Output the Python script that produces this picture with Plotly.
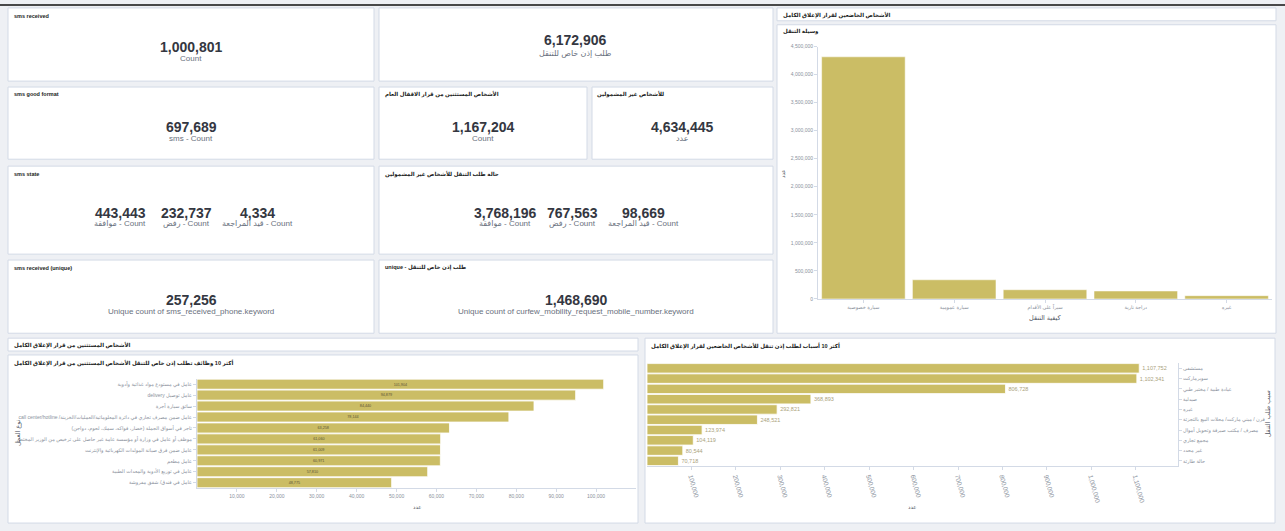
import plotly.graph_objects as go

W, H = 1285, 531


def fx(px):
    return px / W


def fy(py):
    return 1 - py / H


RLE, PDF = "\u202b", "\u202c"

# ---------------- data ----------------
single_titles = ["sms received", "sms good format", "sms received (unique)", "",
                 "الأشخاص المستثنين من قرار الاقفال العام", "للأشخاص غير المشمولين",
                 "unique - طلب إذن خاص للتنقل"]
single_values = [1000801, 697689, 257256, 6172906, 1167204, 4634445, 1468690]
single_labels = ["Count", "sms - Count", "Unique count of sms_received_phone.keyword",
                 "طلب إذن خاص للتنقل", "Count", "عدد",
                 "Unique count of curfew_mobility_request_mobile_number.keyword"]

state_labels = ["موافقة - Count", "رفض - Count", "قيد المراجعة - Count"]
sms_state_values = [443443, 232737, 4334]
mobility_state_values = [3768196, 767563, 98669]

transport_modes = ["سيارة خصوصية", "سيارة عمومية", "سيراً على الأقدام", "دراجة نارية", "غيره"]
transport_counts = [4316000, 341000, 164000, 141000, 58000]

jobs = [
    "عامل في مستودع مواد غذائية وأدوية",
    "عامل توصيل delivery",
    "سائق سيارة أجرة",
    "عامل ضمن مصرف تجاري في دائرة المعلوماتية/العمليات/الخزينة/ call center/hotline",
    "تاجر في أسواق الجملة (خضار، فواكه، سمك، لحوم، دواجن)",
    "موظف أو عامل في وزارة أو مؤسسة عامة غير حاصل على ترخيص من الوزير المختص",
    "عامل ضمن فرق صيانة المولدات الكهربائية والإنترنت",
    "عامل مطعم",
    "عامل في توزيع الأدوية والمعدات الطبية",
    "عامل في فندق/ شقق مفروشة",
]
job_counts = [101904, 94879, 84440, 78144, 63258, 61060, 61009, 60971, 57810, 48775]

reasons = [
    "مستشفى", "سوبرماركت", "عيادة طبية / مختبر طبي", "صيدلية", "غيره",
    "فرن / ميني ماركت/ محلات البيع بالتجزئة", "مصرف / مكتب صيرفة وتحويل أموال",
    "مجمع تجاري", "غير محدد", "حالة طارئة",
]
reason_counts = [1107752, 1102341, 806728, 368893, 292821, 248521, 123974, 104119, 80544, 70718]

x_ticks_jobs = [10000, 20000, 30000, 40000, 50000, 60000, 70000, 80000, 90000, 100000]
x_ticks_reasons = [100000, 200000, 300000, 400000, 500000, 600000, 700000, 800000,
                   900000, 1000000, 1100000]
y_ticks_transport = [0, 500000, 1000000, 1500000, 2000000, 2500000, 3000000, 3500000,
                     4000000, 4500000]

# ---------------- style ----------------
FONT = "Liberation Sans, Arial, DejaVu Sans, sans-serif"
BAR = "#cbbd65"
NUM = "#343741"
LAB = "#69707d"
TIT = "#1a1c21"
TICK = "#8a919c"
BORDER = "#d3dae6"

fig = go.Figure()

# chart 1: transport mode (vertical)
fig.add_trace(go.Bar(x=transport_modes, y=transport_counts, marker_color=BAR,
                     marker_line=dict(color="white", width=0.5),
                     xaxis="x", yaxis="y", hoverinfo="x+y"))

# chart 2: jobs (horizontal)
fig.add_trace(go.Bar(y=[RLE + j + PDF for j in jobs], x=job_counts, orientation="h",
                     marker_color=BAR, marker_line=dict(color="white", width=0.8),
                     text=[f"{v:,}" for v in job_counts], textposition="inside",
                     insidetextanchor="middle",
                     textfont=dict(size=5.5, color="#5a5436", family=FONT),
                     xaxis="x2", yaxis="y2"))

# chart 3: reasons (horizontal, axis on right)
fig.add_trace(go.Bar(y=[RLE + r + PDF for r in reasons], x=reason_counts, orientation="h",
                     marker_color=BAR, marker_line=dict(color="white", width=0.8),
                     text=[f"{v:,}" for v in reason_counts], textposition="outside",
                     cliponaxis=False,
                     textfont=dict(size=5.5, color="#aaa27c", family=FONT),
                     xaxis="x3", yaxis="y3"))

shapes = []


def panel(x0, y0, x1, y1):
    shapes.append(dict(type="rect", xref="paper", yref="paper", layer="below",
                       x0=fx(x0), x1=fx(x1), y0=fy(y1), y1=fy(y0),
                       fillcolor="white", line=dict(color=BORDER, width=1)))


panel(8, 5, 374, 79)
panel(8, 85, 374, 158)
panel(8, 165, 374, 254)
panel(8, 260, 374, 334)
panel(379, 5, 773, 79)
panel(379, 85, 587, 158)
panel(592, 85, 773, 158)
panel(379, 165, 773, 254)
panel(379, 260, 773, 334)
panel(777, 5, 1276, 18)
panel(777, 22, 1276, 334)
panel(8, 339, 638, 352)
panel(8, 356, 638, 526)
panel(645, 339, 1275, 526)

# dark line at the very top
shapes.append(dict(type="line", xref="paper", yref="paper", x0=0, x1=1, y0=fy(2), y1=fy(2),
                   line=dict(color="#111111", width=1.5)))

ann = []


def text(x, y, s, size, color, anchor="center", bold=False, angle=0):
    ann.append(dict(x=fx(x), y=fy(y), xref="paper", yref="paper", text=("<b>%s</b>" % s) if bold else s,
                    showarrow=False, xanchor=anchor, yanchor="middle", textangle=angle,
                    font=dict(family=FONT, size=size, color=color)))


NUM_SIZE = 14
LAB_SIZE = 8
TIT_SIZE = 5.5

# single metric panels
title_pos = [(12, 13), (12, 92), (12, 268), None, (383, 92), (595, 92), (383, 268)]
value_pos = [(191, 45), (191, 125), (191, 300), (575, 37.5), (483, 125), (682, 125), (576, 300)]
label_gap = [11, 12, 12, 14, 12, 12, 12]
for t, v, l, tp, vp, g in zip(single_titles, single_values, single_labels, title_pos, value_pos, label_gap):
    if tp and t:
        text(tp[0], tp[1], t, TIT_SIZE, TIT, anchor="left", bold=True)
    text(vp[0], vp[1], f"{v:,}", NUM_SIZE, NUM, bold=True)
    text(vp[0], vp[1] + g, l, LAB_SIZE, LAB)

# multi-value state panels
text(12, 173, "sms state", TIT_SIZE, TIT, anchor="left", bold=True)
for xc, v, l in zip([120, 186, 257], sms_state_values, state_labels):
    text(xc, 212, f"{v:,}", NUM_SIZE, NUM, bold=True)
    text(xc, 223, l, LAB_SIZE, LAB)
text(383, 173, "حالة طلب التنقل للأشخاص غير المشمولين", TIT_SIZE, TIT, anchor="left", bold=True)
for xc, v, l in zip([505, 572, 643], mobility_state_values, state_labels):
    text(xc, 212, f"{v:,}", NUM_SIZE, NUM, bold=True)
    text(xc, 223, l, LAB_SIZE, LAB)

# chart titles / headers
text(781, 12, "الأشخاص الخاضعين لقرار الإغلاق الكامل", TIT_SIZE, TIT, anchor="left", bold=True)
text(781, 29, "وسيلة التنقل", TIT_SIZE, TIT, anchor="left", bold=True)
text(1045, 318, "كيفية التنقل", 6.5, "#535966")
text(783, 172, "عدد", 5.5, "#535966", angle=-90)

text(12, 346, "الأشخاص المستثنين من قرار الإغلاق الكامل", TIT_SIZE, TIT, anchor="left", bold=True)
text(12, 364, "أكثر 10 وظائف تطلب إذن خاص للتنقل الأشخاص المستثنين من قرار الإغلاق الكامل",
     TIT_SIZE, TIT, anchor="left", bold=True)
text(417, 510, "عدد", 5.5, "#535966")
text(18, 435, "نوع العمل", 6.5, "#535966", angle=-90)

text(649, 347, "أكثر 10 أسباب لطلب إذن تنقل للأشخاص الخاضعين لقرار الإغلاق الكامل",
     TIT_SIZE, TIT, anchor="left", bold=True)
text(912, 510, "عدد", 5.5, "#535966")
text(1268, 416, "سبب طلب التنقل", 6.5, "#535966", angle=-90)

axis_common = dict(showgrid=False, zeroline=False, showline=True, linecolor="#d3dae6",
                   linewidth=1, ticks="outside", ticklen=3, tickcolor="#d3dae6",
                   fixedrange=True)
tick5 = dict(family=FONT, size=5, color=TICK)

fig.update_layout(
    width=W, height=H, autosize=False,
    margin=dict(l=0, r=0, t=0, b=0, pad=0),
    paper_bgcolor="#eef0f4", plot_bgcolor="rgba(0,0,0,0)",
    showlegend=False, bargap=0.08,
    shapes=shapes, annotations=ann,
    xaxis=dict(domain=[fx(818), fx(1272)], anchor="y", tickfont=tick5, **axis_common),
    yaxis=dict(domain=[fy(299.3), fy(44)], anchor="x", range=[0, 4500000],
               tickvals=y_ticks_transport, tickformat=",", tickfont=tick5, **axis_common),
    xaxis2=dict(domain=[fx(197), fx(636)], anchor="y2", range=[0, 110000],
                tickvals=x_ticks_jobs, tickformat=",", tickfont=tick5, **axis_common),
    yaxis2=dict(domain=[fy(490.7), fy(380)], anchor="x2", autorange="reversed",
                tickfont=tick5, **axis_common),
    xaxis3=dict(domain=[fx(647), fx(1178)], anchor="y3", range=[0, 1195000],
                tickvals=x_ticks_reasons, tickformat=",", tickangle=75,
                tickfont=dict(family=FONT, size=6.5, color=TICK), **axis_common),
    yaxis3=dict(domain=[fy(468.3), fy(364.3)], anchor="x3", side="right",
                autorange="reversed", tickfont=tick5, **axis_common),
)

fig.write_html("out.html", config={"displayModeBar": False},
               post_script="document.body.style.margin='0';document.body.style.background='#eef0f4';")
